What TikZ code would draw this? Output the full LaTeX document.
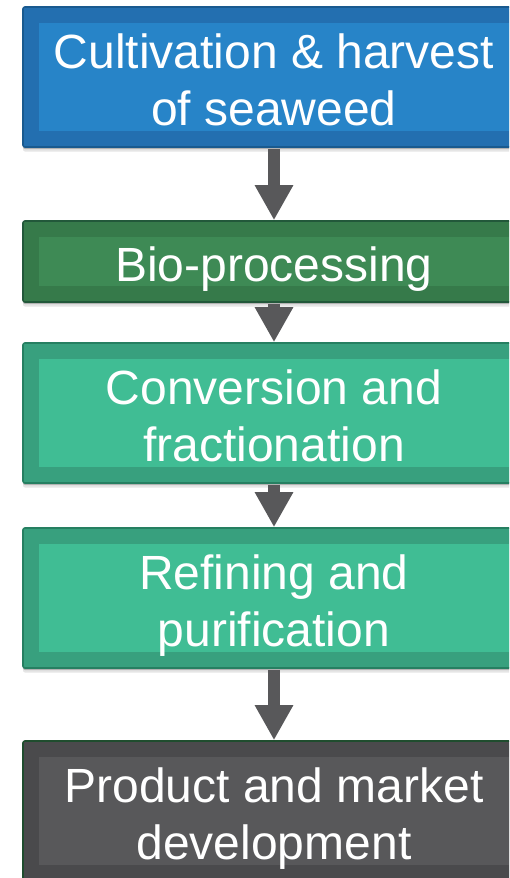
\documentclass[tikz,border=0pt]{standalone}
\usepackage{fontspec}
\setmainfont{Liberation Sans}
\usetikzlibrary{arrows.meta,shadows}
\definecolor{blueOut}{HTML}{236FB0}
\definecolor{blueIn}{HTML}{2784C8}
\definecolor{blueEdge}{HTML}{195A8F}
\definecolor{greenOut}{HTML}{367A4A}
\definecolor{greenIn}{HTML}{3E8A55}
\definecolor{greenEdge}{HTML}{22583A}
\definecolor{tealOut}{HTML}{38A07E}
\definecolor{tealIn}{HTML}{40BD94}
\definecolor{tealEdge}{HTML}{267F61}
\definecolor{grayOut}{HTML}{4A4A4C}
\definecolor{grayIn}{HTML}{58585A}
\definecolor{grayEdge}{HTML}{1F4D2E}
\definecolor{arrowGray}{HTML}{58585A}
\begin{document}
\begin{tikzpicture}[x=1pt,y=-1pt,
  framebox/.style 2 args={draw=#2, fill=#1, line width=1.6pt, rounded corners=2pt,
    minimum width=502pt, inner sep=0pt,
    drop shadow={shadow xshift=0pt, shadow yshift=-2pt, opacity=0.22, fill=black},
    drop shadow={shadow xshift=0pt, shadow yshift=-4.5pt, opacity=0.10, fill=black}},
  innerbox/.style={fill=#1, minimum width=470pt, inner sep=0pt},
  label/.style={text=white, align=center, inner sep=0pt, text depth=0pt,
    yshift=-2.5pt, font=\fontsize{48}{57}\selectfont},
  flowarrow/.style={draw=arrowGray, line width=12pt,
    -{Triangle[width=36pt,length=35pt]}, shorten <=1pt}
]
\useasboundingbox (0,0) rectangle (509,878);
\clip (0,0) rectangle (509,878);
\fill[white] (0,0) rectangle (509,878);

% outer frames
\node[framebox={blueOut}{blueEdge}, minimum height=140pt] (b1) at (274,77) {};
\node[framebox={greenOut}{greenEdge}, minimum height=81pt] (b2) at (274,261.5) {};
\node[framebox={tealOut}{tealEdge}, minimum height=140pt] (b3) at (274,413) {};
\node[framebox={tealOut}{tealEdge}, minimum height=140pt] (b4) at (274,598) {};
\node[framebox={grayOut}{grayEdge}, minimum height=140pt] (b5) at (274,811) {};

% inner panels
\node[innerbox=blueIn, minimum height=108pt] (p1) at (b1) {};
\node[innerbox=greenIn, minimum height=49pt] (p2) at (b2) {};
\node[innerbox=tealIn, minimum height=108pt] (p3) at (b3) {};
\node[innerbox=tealIn, minimum height=108pt] (p4) at (b4) {};
\node[innerbox=grayIn, minimum height=108pt] (p5) at (b5) {};

% labels
\node[label] (t1) at (p1) {Cultivation \& harvest\\of seaweed};
\node[label] (t2) at (p2) {Bio-processing};
\node[label] (t3) at (p3) {Conversion and\\fractionation};
\node[label] (t4) at (p4) {Refining and\\purification};
\node[label] (t5) at (p5) {Product and market\\development};

% arrows
\draw[flowarrow] (b1.south) -- (b2.north);
\draw[flowarrow] (b2.south) -- (b3.north);
\draw[flowarrow] (b3.south) -- (b4.north);
\draw[flowarrow] (b4.south) -- (b5.north);
\end{tikzpicture}
\end{document}
